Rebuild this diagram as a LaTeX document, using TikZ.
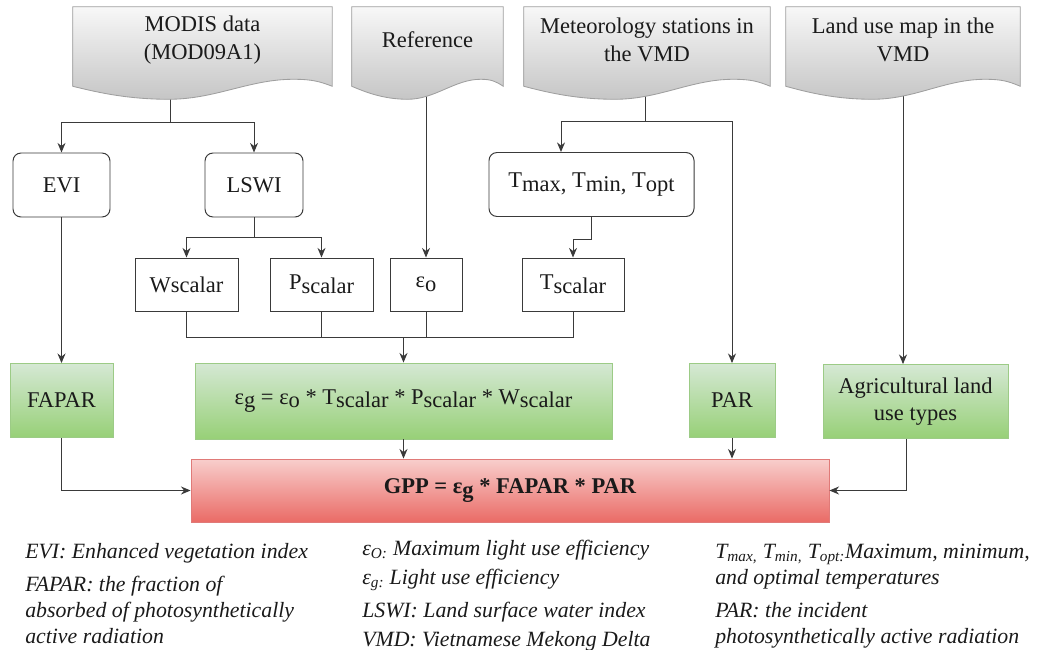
\documentclass[tikz,border=0pt]{standalone}
\usepackage{fontspec}
\setmainfont{Liberation Serif}
\usetikzlibrary{arrows.meta, positioning, backgrounds, calc}

\newcommand{\pu}{0.025cm}
\newcommand{\boxfont}{\fontsize{16}{19.5}\selectfont}
\newcommand{\legendfont}{\fontsize{15.5}{18.5}\selectfont\itshape}
\newcommand{\lsub}[1]{\raisebox{-2.6pt}{#1}}

\definecolor{linegray}{HTML}{3A3A3A}
\definecolor{textblack}{HTML}{1A1A1A}
\definecolor{greentop}{HTML}{D5E8D4}
\definecolor{greenbot}{HTML}{97D077}
\definecolor{greenedge}{HTML}{9CCB86}
\definecolor{redtop}{HTML}{F8CECC}
\definecolor{redbot}{HTML}{EA6B66}
\definecolor{rededge}{HTML}{E07A78}

\tikzset{
  source/.style={rectangle, minimum height=66*\pu, text centered, align=center,
                 font=\boxfont},
  docpaper/.style={draw=gray!75, line width=0.6pt, top color=gray!6,
                   bottom color=gray!45},
  procbox/.style={rectangle, draw=linegray, rounded corners=0.2cm, line width=0.7pt,
                  minimum height=64*\pu, text centered, font=\boxfont},
  scalarbox/.style={rectangle, draw=linegray, line width=0.7pt,
                    minimum height=53*\pu, text centered, font=\boxfont},
  greenbox/.style={rectangle, draw=greenedge, line width=0.6pt, top color=greentop,
                   bottom color=greenbot, minimum height=74*\pu, align=center,
                   font=\boxfont},
  gppbox/.style={rectangle, draw=rededge, line width=0.6pt, top color=redtop,
                 bottom color=redbot, minimum height=63*\pu,
                 font=\boxfont\bfseries},
  line/.style={draw=linegray, line width=0.7pt},
  arrow/.style={line, -{Stealth[length=2.4mm, width=2mm]}},
  legend/.style={anchor=west, inner sep=0pt, align=left, font=\legendfont},
}

% wavy "document" outline round a source node
\newcommand{\docshape}[1]{%
  \path[docpaper] let \p1=(#1.south west), \p2=(#1.north east), \n1={\x2-\x1} in
    (\x1,\y2) -- (\x2,\y2) -- ({\x2},{\y1-0.325cm})
    .. controls ({\x2-0.05*\n1},{\y1-0.2cm}) and ({\x1+0.92*\n1},{\y1-0.15cm})
    .. ({\x1+0.85*\n1},{\y1-0.15cm})
    .. controls ({\x1+0.68*\n1},{\y1-0.15cm}) and ({\x1+0.55*\n1},{\y1-0.65cm})
    .. ({\x1+0.37*\n1},{\y1-0.65cm})
    .. controls ({\x1+0.2*\n1},{\y1-0.65cm}) and ({\x1+0.08*\n1},{\y1-0.45cm})
    .. ({\x1},{\y1-0.325cm}) -- cycle;}

\begin{document}
\begin{tikzpicture}[x=\pu, y=-\pu, text=textblack]
  \useasboundingbox (0,0) rectangle (1046,650);

  % --- Data sources ---
  \node[source, minimum width=259*\pu] (modis) at (202.5,40) {MODIS data\\(MOD09A1)};
  \node[source, minimum width=151*\pu] (ref)   at (427.5,40) {Reference};
  \node[source, minimum width=246*\pu] (met)   at (647,40)   {Meteorology stations in\\the VMD};
  \node[source, minimum width=234*\pu] (land)  at (903,40)   {Land use map in the\\VMD};

  % --- Indices and temperatures ---
  \node[procbox, minimum width=97*\pu]  (evi)  at (61.5,185)    {EVI};
  \node[procbox, minimum width=98*\pu]  (lswi) at (254,185)     {LSWI};
  \node[procbox, minimum width=205*\pu] (tmax) at (591.5,184.5)
       {T\lsub{max,} T\lsub{min,} T\lsub{opt}};

  % --- Scalars ---
  \node[scalarbox, minimum width=103*\pu] (wsc) at (186.5,284.5) {Wscalar};
  \node[scalarbox, minimum width=103*\pu] (psc) at (321.5,284.5) {P\lsub{scalar}};
  \node[scalarbox, minimum width=72*\pu]  (eps) at (426,284.5)   {ε\lsub{o}};
  \node[scalarbox, minimum width=102*\pu] (tsc) at (573,284.5)   {T\lsub{scalar}};

  % --- Model inputs ---
  \node[greenbox, minimum width=103*\pu] (fapar) at (61.5,400.5) {FAPAR};
  \node[greenbox, minimum width=417*\pu, minimum height=76*\pu] (eg) at (403.5,401)
       {ε\lsub{g} = ε\lsub{o} * T\lsub{scalar} * P\lsub{scalar} * W\lsub{scalar}};
  \node[greenbox, minimum width=86*\pu]  (par)  at (732,400.5)   {PAR};
  \node[greenbox, minimum width=185*\pu] (agri) at (915.5,401.5) {Agricultural land\\use types};

  % --- GPP ---
  \node[gppbox, minimum width=638*\pu] (gpp) at (510,490.5)
       {GPP = ε\lsub{g} * FAPAR * PAR};

  % --- Source outlines and their links ---
  \begin{scope}[on background layer]
    \draw[line] ($(modis.south)+(-32.5,0)$) -- ++(0,49) coordinate (modisfork);
    \draw[line] ($(met.south)+(-2,0)$) -- ++(0,48) coordinate (metfork);
    \draw[arrow] (ref.south -| eps.north) -- (eps.north);
    \draw[arrow] (land.south) -- (land.south |- agri.north);
    \docshape{modis}
    \docshape{ref}
    \docshape{met}
    \docshape{land}
  \end{scope}

  % --- Arrows ---
  \draw[arrow] (modisfork) -| (evi.north);
  \draw[arrow] (modisfork) -| (lswi.north);
  \draw[arrow] (metfork) -| ($(tmax.north)+(-30.5,0)$);
  \draw[arrow] (metfork) -| (par.north);
  \draw[arrow] (lswi.south) -- ++(0,20) -| (wsc.north);
  \draw[arrow] (lswi.south) -- ++(0,20) -| (psc.north);
  \draw[arrow] (tmax.south) -- ++(0,22) -| (tsc.north);
  \draw[line] (wsc.south) -- ++(0,26) coordinate (scjoin) -| (tsc.south);
  \draw[line] (psc.south) -- (psc.south |- scjoin);
  \draw[line] (eps.south) -- (eps.south |- scjoin);
  \draw[arrow] (scjoin -| eg.north) -- (eg.north);
  \draw[arrow] (evi) -- (fapar);
  \draw[arrow] (eg) -- (eg.south |- gpp.north);
  \draw[arrow] (par) -- (par.south |- gpp.north);
  \draw[arrow] (fapar.south) |- (gpp.west);
  \draw[arrow] ($(agri.south)+(-9.5,0)$) |- (gpp.east);

  % --- Abbreviations ---
  \node[legend] (evidef)   at (25,553) {EVI: Enhanced vegetation index};
  \node[legend] (fapardef) at (25,610) {FAPAR: the fraction of\\absorbed of photosynthetically\\active radiation};
  \node[legend] (eodef)    at (362,550) {ε\textsubscript{O:} Maximum light use efficiency};
  \node[legend] (egdef)    at (362,580) {ε\textsubscript{g:} Light use efficiency};
  \node[legend] (lswidef)  at (362,612) {LSWI: Land surface water index};
  \node[legend] (vmddef)   at (362,641) {VMD: Vietnamese Mekong Delta};
  \node[legend] (tdef)     at (715,566.5)
       {T\textsubscript{max,} T\textsubscript{min,} T\textsubscript{opt:}Maximum, minimum,\\and optimal temperatures};
  \node[legend] (pardef)   at (715,625) {PAR: the incident\\photosynthetically active radiation};
\end{tikzpicture}
\end{document}
